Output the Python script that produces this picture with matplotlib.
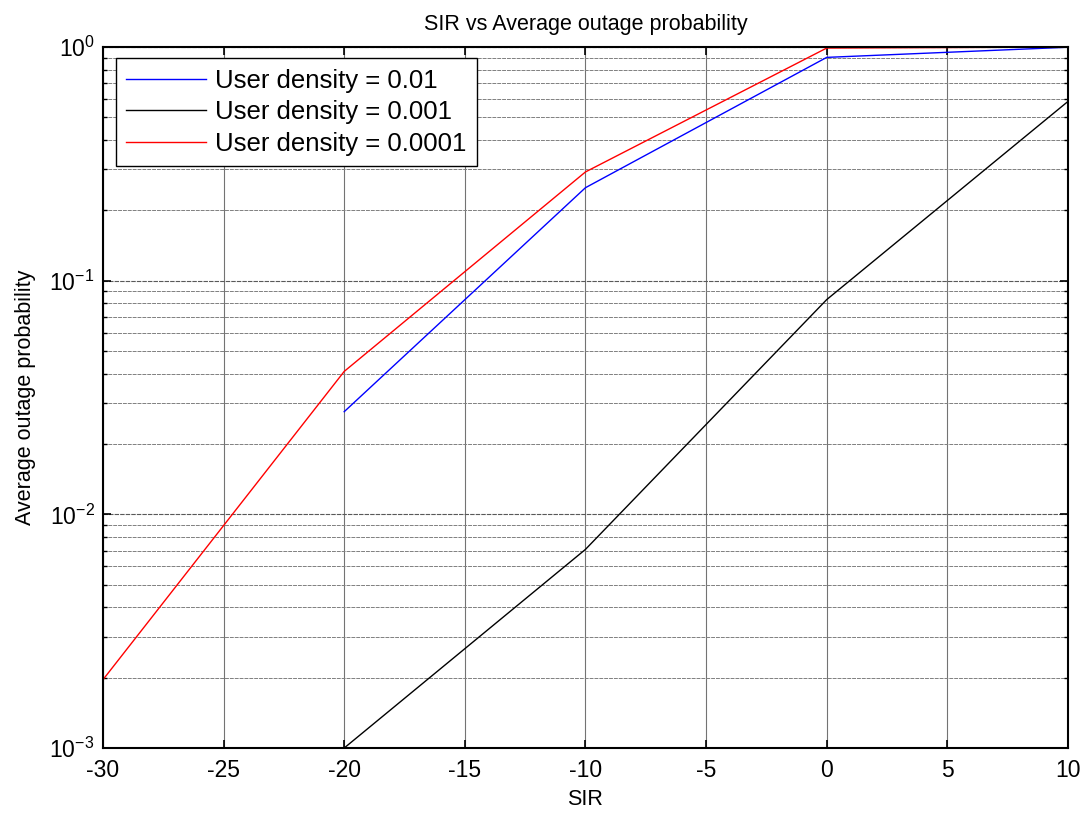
import matplotlib
matplotlib.use('Agg')
import matplotlib.pyplot as plt
from matplotlib.ticker import LogLocator, MultipleLocator

plt.rcParams['font.family'] = ['Liberation Sans', 'DejaVu Sans']
plt.rcParams['mathtext.default'] = 'regular'
plt.rcParams['axes.unicode_minus'] = False

# outage probability vs SIR (dB) for three user densities
sir_blue = [-20, -10, 0, 10]
p_blue = [0.0275, 0.250, 0.903, 0.998]

sir_black = [-20, -10, 0, 10]
p_black = [0.001, 0.00708, 0.083, 0.585]

sir_red = [-30, -20, -10, 0, 10]
p_red = [0.00196, 0.0409, 0.292, 0.99, 1.0]

labels = ['User density = 0.01', 'User density = 0.001', 'User density = 0.0001']

fig = plt.figure(figsize=(10.86, 8.15), dpi=100)
ax = fig.add_axes([0.0948, 0.0822, 0.8886, 0.8601])

ax.plot(sir_blue, p_blue, color='blue', lw=1.0, label=labels[0])
ax.plot(sir_black, p_black, color='black', lw=1.0, label=labels[1])
ax.plot(sir_red, p_red, color='red', lw=1.0, label=labels[2])

ax.set_yscale('log')
ax.set_xlim(-30, 10)
ax.set_ylim(1e-3, 1)
ax.xaxis.set_major_locator(MultipleLocator(5))
ax.yaxis.set_major_locator(LogLocator(base=10, numticks=10))
ax.yaxis.set_minor_locator(LogLocator(base=10, subs=range(2, 10), numticks=20))

ax.grid(True, which='major', axis='x', color='0.45', lw=0.8)
ax.grid(True, which='major', axis='y', color='0.35', lw=0.8, ls=(0, (4, 1)))
ax.grid(True, which='minor', axis='y', color='0.5', lw=0.7, ls=(0, (4, 1)))

ax.tick_params(which='both', direction='in', top=True, right=True, labelsize=16.5)
ax.tick_params(which='major', length=6, width=1.2)
ax.tick_params(which='minor', length=3, width=1.0)
ax.tick_params(axis='x', which='major', pad=8)
ax.tick_params(axis='y', which='major', pad=6)
for s in ax.spines.values():
    s.set_linewidth(1.5)

ax.set_title('SIR vs Average outage probability', fontsize=15.5, pad=12)
ax.set_xlabel('SIR', fontsize=15.5, labelpad=5)
ax.set_ylabel('Average outage probability', fontsize=15.5, labelpad=10)

leg = ax.legend(loc='upper left', bbox_to_anchor=(0.0135, 0.984), borderaxespad=0,
                fontsize=18.5, handlelength=3.1, handletextpad=0.36, labelspacing=0.3,
                fancybox=False, framealpha=1, edgecolor='black', borderpad=0.4)
leg.get_frame().set_linewidth(1.0)

fig.savefig('out.png', dpi=100)
